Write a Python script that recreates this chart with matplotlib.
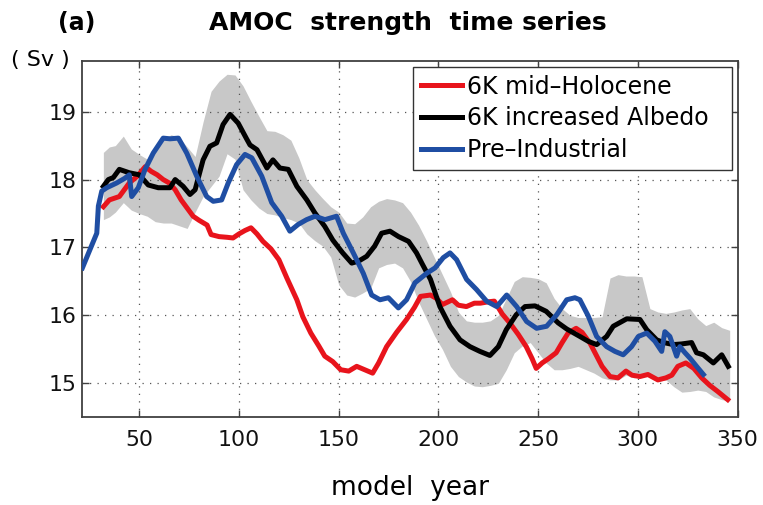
import matplotlib
matplotlib.use("Agg")
import matplotlib.pyplot as plt

# ---------------- data ----------------
red_x = [32, 35, 40, 45, 49, 53, 56, 59, 62, 65, 68, 71, 74, 77, 80, 84, 86, 90, 94, 97,
         100, 103, 106, 109, 112, 116, 120, 124, 129, 132, 136, 140, 143, 147, 151, 155,
         159, 163, 167, 170, 174, 179, 184, 188, 191, 196, 199, 202, 207, 210, 214, 218,
         221, 225, 228, 232, 236, 240, 244, 247, 249, 252, 255, 259, 262, 265, 269, 272,
         276, 279, 282, 286, 290, 294, 297, 301, 305, 310, 314, 317, 320, 324, 328, 332,
         336, 340, 345]
red_y = [17.60, 17.70, 17.75, 17.95, 18.05, 18.19, 18.12, 18.07, 18.00, 17.95, 17.85, 17.70,
         17.58, 17.46, 17.40, 17.33, 17.19, 17.16, 17.15, 17.14, 17.20, 17.25, 17.29, 17.20,
         17.09, 16.98, 16.82, 16.55, 16.23, 15.98, 15.74, 15.55, 15.40, 15.32, 15.20, 15.18,
         15.25, 15.20, 15.15, 15.30, 15.54, 15.75, 15.94, 16.12, 16.28, 16.30, 16.25, 16.16,
         16.23, 16.15, 16.13, 16.18, 16.18, 16.20, 16.21, 16.02, 15.88, 15.72, 15.54, 15.36,
         15.22, 15.30, 15.36, 15.45, 15.60, 15.74, 15.81, 15.75, 15.59, 15.42, 15.25, 15.10,
         15.08, 15.18, 15.12, 15.10, 15.13, 15.05, 15.08, 15.12, 15.25, 15.30, 15.22, 15.08,
         14.97, 14.88, 14.76]

black_x = [32, 34.5, 37, 40, 43, 45, 50, 54.5, 59.5, 65.4, 68, 72, 75.4, 78, 82, 85.4, 88.8,
           92, 95.5, 99.6, 103.8, 105.5, 109, 114, 117, 120.5, 124.7, 129, 134, 138, 143, 147,
           152, 156.5, 160, 164, 168, 171.5, 175.7, 180, 185, 189, 192, 196, 200.7, 205.8,
           210.8, 215.8, 220.8, 225.8, 230, 234, 239, 243.4, 248.4, 254, 260, 264.3, 270.9,
           275, 279.3, 284.3, 287.6, 294.4, 301, 304.4, 309.4, 313, 317.7, 322, 326.9, 329.4,
           332.8, 337.8, 342, 345.3]
black_y = [17.90, 18.00, 18.03, 18.15, 18.12, 18.10, 18.07, 17.92, 17.88, 17.88, 18.00, 17.90,
           17.78, 17.85, 18.29, 18.49, 18.54, 18.81, 18.96, 18.83, 18.60, 18.51, 18.44, 18.17,
           18.29, 18.17, 18.15, 17.90, 17.70, 17.51, 17.31, 17.11, 16.92, 16.77, 16.80, 16.87,
           17.02, 17.21, 17.24, 17.16, 17.09, 16.92, 16.75, 16.53, 16.13, 15.84, 15.64, 15.54,
           15.47, 15.41, 15.54, 15.79, 16.01, 16.13, 16.14, 16.06, 15.89, 15.80, 15.69, 15.62,
           15.57, 15.69, 15.84, 15.95, 15.94, 15.79, 15.64, 15.60, 15.57, 15.58, 15.60, 15.45,
           15.42, 15.30, 15.42, 15.25]

blue_x = [21.5, 25.3, 28.7, 29.5, 31.2, 33.7, 38.7, 42.8, 45, 46.2, 49.5, 52.9, 57, 62, 65.4,
          69.6, 73.8, 78.8, 83.8, 87.1, 91.3, 94.6, 98.8, 103, 106.4, 111.4, 116.4, 121.4,
          125.5, 129.7, 133.9, 138.1, 143.1, 148.9, 152.3, 157.3, 162.3, 166.5, 170.7, 174.9,
          179.9, 184, 188.2, 194.1, 198.3, 202.4, 205.8, 209.1, 214.1, 219.1, 224.1, 229.2,
          234.2, 239.2, 244.2, 249.2, 254.2, 259.3, 264.3, 268.4, 270.9, 275.1, 279.3, 284.3,
          288.5, 292.6, 296.8, 300.2, 304.4, 308.5, 311.9, 313.5, 316, 319.4, 321, 323.6,
          326.1, 329.4, 332.8]
blue_y = [16.70, 16.97, 17.21, 17.61, 17.83, 17.88, 17.95, 18.02, 18.07, 17.75, 17.88, 18.15,
          18.39, 18.61, 18.60, 18.61, 18.39, 18.05, 17.75, 17.68, 17.70, 17.95, 18.22, 18.37,
          18.32, 18.05, 17.66, 17.46, 17.24, 17.34, 17.41, 17.46, 17.41, 17.46, 17.21, 16.92,
          16.62, 16.30, 16.23, 16.26, 16.11, 16.23, 16.48, 16.62, 16.70, 16.85, 16.92, 16.82,
          16.53, 16.38, 16.21, 16.13, 16.30, 16.13, 15.91, 15.81, 15.84, 16.01, 16.23, 16.26,
          16.23, 15.99, 15.69, 15.54, 15.47, 15.42, 15.54, 15.69, 15.74, 15.62, 15.47, 15.76,
          15.69, 15.40, 15.54, 15.45, 15.37, 15.25, 15.13]

band_x = [32, 35, 38, 42, 46, 50, 54, 58, 62, 66, 70, 74, 78, 82, 86, 90, 94, 98, 102, 106,
          110, 114, 118, 122, 126, 130, 134, 138, 142, 146, 150, 154, 158, 162, 166, 170, 174,
          178, 182, 186, 190, 194, 198, 202, 206, 210, 214, 218, 222, 226, 230, 234, 238, 242,
          246, 250, 254, 258, 262, 266, 270, 274, 278, 282, 286, 290, 294, 298, 302, 306, 310,
          314, 318, 322, 326, 330, 334, 338, 342, 346]
band_hi = [18.40, 18.48, 18.50, 18.64, 18.45, 18.37, 18.30, 18.47, 18.60, 18.66, 18.62, 18.48,
           18.34, 18.85, 19.30, 19.45, 19.55, 19.54, 19.38, 19.15, 18.93, 18.72, 18.71, 18.66,
           18.58, 18.32, 18.00, 17.85, 17.72, 17.60, 17.52, 17.36, 17.35, 17.45, 17.60, 17.68,
           17.72, 17.70, 17.66, 17.52, 17.33, 17.10, 16.85, 16.60, 16.35, 16.05, 15.92, 15.90,
           15.90, 15.92, 16.00, 16.25, 16.50, 16.57, 16.56, 16.54, 16.48, 16.25, 16.10, 16.00,
           15.97, 15.97, 15.97, 15.98, 16.55, 16.60, 16.58, 16.58, 16.57, 16.10, 16.05, 16.03,
           16.05, 16.08, 16.10, 15.95, 15.85, 15.90, 15.82, 15.78]
band_lo = [17.41, 17.45, 17.52, 17.66, 17.55, 17.50, 17.46, 17.38, 17.36, 17.36, 17.32, 17.28,
           17.52, 17.75, 17.90, 18.05, 18.38, 18.30, 17.85, 17.70, 17.58, 17.50, 17.48, 17.44,
           17.41, 17.36, 17.20, 17.10, 17.02, 16.86, 16.45, 16.30, 16.27, 16.33, 16.40, 16.70,
           16.75, 16.77, 16.70, 16.50, 16.20, 15.95, 15.70, 15.50, 15.25, 15.10, 15.02, 14.96,
           14.95, 14.97, 15.00, 15.20, 15.45, 15.55, 15.60, 15.45, 15.30, 15.20, 15.20, 15.22,
           15.25, 15.20, 15.15, 15.08, 15.05, 15.05, 15.12, 15.08, 15.10, 15.10, 15.03, 15.05,
           14.95, 14.87, 14.88, 14.90, 14.88, 14.80, 14.76, 14.74]

series_labels = ["6K mid\u2013Holocene", "6K increased Albedo", "Pre\u2013Industrial"]
x_ticks = [50, 100, 150, 200, 250, 300, 350]
y_ticks = [15, 16, 17, 18, 19]

# ---------------- figure ----------------
plt.rcParams['font.family'] = ['DejaVu Sans']
fig = plt.figure(figsize=(7.63, 5.05), dpi=100)
ax = fig.add_axes([0.1075, 0.1737, 0.8593, 0.7061])

ax.fill_between(band_x, band_lo, band_hi, color='#c8c8c8', lw=0, zorder=1)
lw = 3.6
l1, = ax.plot(red_x, red_y, color='#e8141c', lw=lw, zorder=3, solid_joinstyle='round')
l2, = ax.plot(black_x, black_y, color='black', lw=lw, zorder=4, solid_joinstyle='round')
l3, = ax.plot(blue_x, blue_y, color='#1f4ea3', lw=lw, zorder=5, solid_joinstyle='round')

ax.set_xlim(21.3, 350)
ax.set_ylim(14.5, 19.75)
ax.set_xticks(x_ticks)
ax.set_yticks(y_ticks)
ax.tick_params(direction='in', top=True, right=True, length=5, width=1,
               color='#404040', labelsize=15.8)
ax.tick_params(axis='x', pad=9)
ax.tick_params(axis='y', pad=4)
for lab in ax.get_xticklabels() + ax.get_yticklabels():
    lab.set_color('#111111')
ax.grid(True, linestyle=(0, (1, 5)), color='#555555', linewidth=0.9)
ax.set_axisbelow(False)
for s in ax.spines.values():
    s.set_color('#404040')
    s.set_linewidth(1.3)

leg = ax.legend([l1, l2, l3], [s + "  " for s in series_labels], loc='upper right',
                bbox_to_anchor=(0.991, 0.983), borderaxespad=0,
                prop={'family': ['DejaVu Sans'], 'size': 17},
                fancybox=False, framealpha=1, edgecolor='#333333',
                handlelength=1.75, handletextpad=0.22, labelspacing=0.33,
                borderpad=0.33)
leg.get_frame().set_linewidth(1.0)
leg.set_zorder(10)

fig.text(0.534, 0.94, "AMOC  strength  time series", ha='center', va='baseline',
         fontsize=18, fontweight='bold')
fig.text(0.076, 0.94, "(a)", ha='left', va='baseline', fontsize=17, fontweight='bold')
fig.text(0.015, 0.869, "( Sv )", ha='left', va='baseline', fontsize=16)
ax.set_xlabel("model  year", fontsize=19, labelpad=18)

fig.savefig("out.png", dpi=100)
